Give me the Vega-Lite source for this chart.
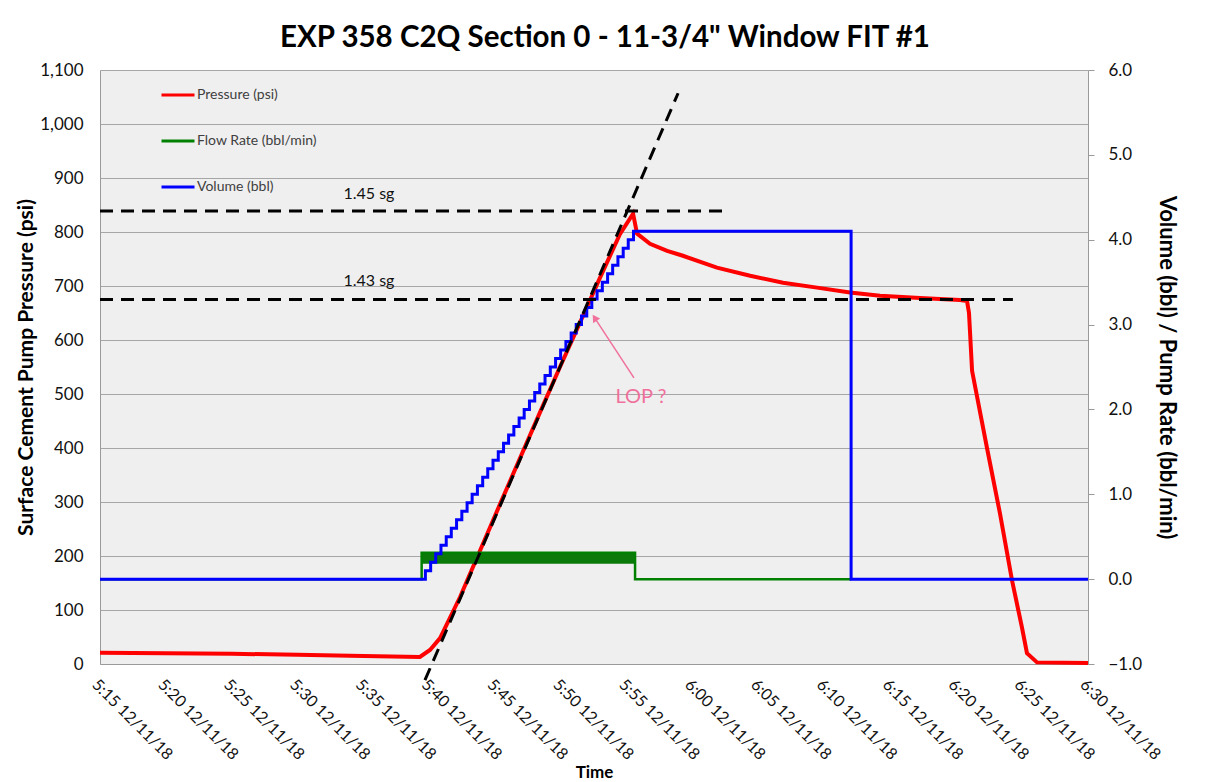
{
  "$schema": "https://vega.github.io/schema/vega-lite/v6.json",
  "width": 988,
  "height": 594,
  "autosize": {"type": "none"},
  "padding": {"left": 100, "top": 70, "right": 117, "bottom": 118},
  "background": "white",
  "title": {
    "text": "EXP 358 C2Q Section 0 - 11-3/4\" Window FIT #1",
    "font": "Lato", "fontSize": 29.5, "fontWeight": "bold", "color": "#000000",
    "anchor": "middle", "frame": "group", "offset": 8, "dx": 11
  },
  "config": {
    "view": {"fill": "#efefef", "stroke": null},
    "font": "Lato"
  },
  "datasets": {
    "pressure": [
      {"t": "2018-12-11T05:15:00", "p": 21},
      {"t": "2018-12-11T05:20:00", "p": 20},
      {"t": "2018-12-11T05:25:00", "p": 19},
      {"t": "2018-12-11T05:30:00", "p": 17},
      {"t": "2018-12-11T05:35:00", "p": 15},
      {"t": "2018-12-11T05:39:17", "p": 13},
      {"t": "2018-12-11T05:40:03", "p": 26},
      {"t": "2018-12-11T05:40:49", "p": 48},
      {"t": "2018-12-11T05:42:20", "p": 124},
      {"t": "2018-12-11T05:45:22", "p": 296},
      {"t": "2018-12-11T05:48:24", "p": 466},
      {"t": "2018-12-11T05:49:55", "p": 550},
      {"t": "2018-12-11T05:51:26", "p": 632},
      {"t": "2018-12-11T05:52:57", "p": 715},
      {"t": "2018-12-11T05:54:28", "p": 796},
      {"t": "2018-12-11T05:55:28", "p": 834},
      {"t": "2018-12-11T05:55:46", "p": 797},
      {"t": "2018-12-11T05:56:45", "p": 778},
      {"t": "2018-12-11T05:58:03", "p": 765},
      {"t": "2018-12-11T05:59:15", "p": 756},
      {"t": "2018-12-11T06:01:50", "p": 734},
      {"t": "2018-12-11T06:04:21", "p": 719},
      {"t": "2018-12-11T06:06:51", "p": 706},
      {"t": "2018-12-11T06:09:26", "p": 697},
      {"t": "2018-12-11T06:11:56", "p": 688},
      {"t": "2018-12-11T06:14:13", "p": 682},
      {"t": "2018-12-11T06:17:15", "p": 678},
      {"t": "2018-12-11T06:20:17", "p": 674},
      {"t": "2018-12-11T06:20:49", "p": 672},
      {"t": "2018-12-11T06:20:58", "p": 650},
      {"t": "2018-12-11T06:21:12", "p": 543},
      {"t": "2018-12-11T06:22:20", "p": 400},
      {"t": "2018-12-11T06:23:19", "p": 279},
      {"t": "2018-12-11T06:24:14", "p": 155},
      {"t": "2018-12-11T06:24:59", "p": 68},
      {"t": "2018-12-11T06:25:22", "p": 20},
      {"t": "2018-12-11T06:26:08", "p": 3},
      {"t": "2018-12-11T06:30:00", "p": 2}
    ],
    "flowband": [
      {"t": "2018-12-11T05:39:25", "hi": 0.31, "lo": 0.18},
      {"t": "2018-12-11T05:55:37", "hi": 0.31, "lo": 0.18}
    ],
    "flow": [
      {"t": "2018-12-11T05:15:00", "q": 0},
      {"t": "2018-12-11T05:39:25", "q": 0.31},
      {"t": "2018-12-11T05:55:37", "q": 0},
      {"t": "2018-12-11T06:12:01", "q": 0}
    ],
    "volume": [
      {"t": "2018-12-11T05:15:00", "v": 0},
      {"t": "2018-12-11T05:39:42", "v": 0.1},
      {"t": "2018-12-11T05:40:06", "v": 0.2},
      {"t": "2018-12-11T05:40:29", "v": 0.3},
      {"t": "2018-12-11T05:40:53", "v": 0.4},
      {"t": "2018-12-11T05:41:17", "v": 0.5},
      {"t": "2018-12-11T05:41:40", "v": 0.6},
      {"t": "2018-12-11T05:42:04", "v": 0.7},
      {"t": "2018-12-11T05:42:28", "v": 0.8},
      {"t": "2018-12-11T05:42:52", "v": 0.9},
      {"t": "2018-12-11T05:43:15", "v": 1.0},
      {"t": "2018-12-11T05:43:39", "v": 1.1},
      {"t": "2018-12-11T05:44:03", "v": 1.2},
      {"t": "2018-12-11T05:44:26", "v": 1.3},
      {"t": "2018-12-11T05:44:50", "v": 1.4},
      {"t": "2018-12-11T05:45:14", "v": 1.5},
      {"t": "2018-12-11T05:45:38", "v": 1.6},
      {"t": "2018-12-11T05:46:01", "v": 1.7},
      {"t": "2018-12-11T05:46:25", "v": 1.8},
      {"t": "2018-12-11T05:46:49", "v": 1.9},
      {"t": "2018-12-11T05:47:12", "v": 2.0},
      {"t": "2018-12-11T05:47:36", "v": 2.1},
      {"t": "2018-12-11T05:48:00", "v": 2.2},
      {"t": "2018-12-11T05:48:23", "v": 2.3},
      {"t": "2018-12-11T05:48:47", "v": 2.4},
      {"t": "2018-12-11T05:49:11", "v": 2.5},
      {"t": "2018-12-11T05:49:35", "v": 2.6},
      {"t": "2018-12-11T05:49:58", "v": 2.7},
      {"t": "2018-12-11T05:50:22", "v": 2.8},
      {"t": "2018-12-11T05:50:46", "v": 2.9},
      {"t": "2018-12-11T05:51:09", "v": 3.0},
      {"t": "2018-12-11T05:51:33", "v": 3.1},
      {"t": "2018-12-11T05:51:57", "v": 3.2},
      {"t": "2018-12-11T05:52:20", "v": 3.3},
      {"t": "2018-12-11T05:52:44", "v": 3.4},
      {"t": "2018-12-11T05:53:08", "v": 3.5},
      {"t": "2018-12-11T05:53:32", "v": 3.6},
      {"t": "2018-12-11T05:53:55", "v": 3.7},
      {"t": "2018-12-11T05:54:19", "v": 3.8},
      {"t": "2018-12-11T05:54:43", "v": 3.9},
      {"t": "2018-12-11T05:55:06", "v": 4.0},
      {"t": "2018-12-11T05:55:30", "v": 4.1},
      {"t": "2018-12-11T06:12:01", "v": 0},
      {"t": "2018-12-11T06:30:00", "v": 0}
    ],
    "dashes": [
      {"id": "fit", "t": "2018-12-11T05:39:40", "p": -30},
      {"id": "fit", "t": "2018-12-11T05:58:53", "p": 1057},
      {"id": "sg145", "t": "2018-12-11T05:15:00", "p": 839},
      {"id": "sg145", "t": "2018-12-11T06:02:36", "p": 839},
      {"id": "sg143", "t": "2018-12-11T05:15:00", "p": 675},
      {"id": "sg143", "t": "2018-12-11T06:24:18", "p": 675}
    ],
    "sglabels": [
      {"t": "2018-12-11T05:35:25", "p": 870, "label": "1.45 sg"},
      {"t": "2018-12-11T05:35:25", "p": 710, "label": "1.43 sg"}
    ],
    "lop": [
      {"t": "2018-12-11T05:56:04", "p": 495, "label": "LOP ?"}
    ],
    "arrow": [
      {"t": "2018-12-11T05:55:32", "p": 530, "t2": "2018-12-11T05:52:33", "p2": 641}
    ]
  },
  "layer": [
    {
      "data": {"name": "pressure"},
      "mark": {"type": "line", "strokeWidth": 4},
      "encoding": {
        "x": {"field": "t", "type": "temporal",
          "axis": {"title": "Time", "format": "%-H:%M %m/%d/%y", "labelAngle": 45, "labelAlign": "left", "labelBaseline": "top", "labelFont": "Lato", "labelFontSize": 16, "labelColor": "#111111", "labelPadding": 12, "labelFlush": false, "labelOverlap": false, "ticks": false, "grid": false, "domainColor": "#9a9a9a", "titleFont": "Lato", "titleFontSize": 17, "titleFontWeight": "bold", "titleColor": "#000000", "titlePadding": 2}},
        "y": {"field": "p", "type": "quantitative", "scale": {"domain": [0, 1100]},
          "axis": {"orient": "left", "title": "Surface Cement Pump Pressure (psi)", "format": ",.0f", "values": [0, 100, 200, 300, 400, 500, 600, 700, 800, 900, 1000, 1100], "labelFont": "Lato", "labelFontSize": 17, "labelColor": "#111111", "labelPadding": 17, "ticks": false, "grid": true, "gridColor": "#a6a6a6", "gridWidth": 1.2, "domainColor": "#9a9a9a", "titleFont": "Lato", "titleFontSize": 21, "titleFontWeight": "bold", "titleColor": "#000000", "titlePadding": 3}},
        "color": {"datum": "Pressure (psi)",
          "scale": {"domain": ["Pressure (psi)", "Flow Rate (bbl/min)", "Volume (bbl)"], "range": ["#ff0000", "#008000", "#0000ff"]},
          "legend": {"orient": "none", "legendX": 60, "legendY": 7, "title": null, "labelFont": "Lato", "labelFontSize": 14, "labelColor": "#404040", "symbolType": "stroke", "symbolSize": 1089, "symbolStrokeWidth": 3, "rowPadding": 21, "labelOffset": 1, "padding": 0}}
      }
    },
    {
      "data": {"name": "flowband"},
      "mark": {"type": "area", "color": "#0b7a0b", "opacity": 1},
      "encoding": {
        "x": {"field": "t", "type": "temporal"},
        "y": {"field": "hi", "type": "quantitative", "scale": {"domain": [-1, 6]},
          "axis": {"orient": "right", "title": "Volume (bbl) /  Pump Rate (bbl/min)", "format": ".1f", "values": [-1, 0, 1, 2, 3, 4, 5, 6], "labelFont": "Lato", "labelFontSize": 17, "labelColor": "#111111", "tickSize": 6, "tickColor": "#9a9a9a", "labelPadding": 14, "grid": false, "domainColor": "#9a9a9a", "titleFont": "Lato", "titleFontSize": 22, "titleFontWeight": "bold", "titleColor": "#000000", "titlePadding": 13}},
        "y2": {"field": "lo"}
      }
    },
    {
      "data": {"name": "flow"},
      "mark": {"type": "line", "strokeWidth": 2.5, "interpolate": "step-after"},
      "encoding": {
        "x": {"field": "t", "type": "temporal"},
        "y": {"field": "q", "type": "quantitative", "scale": {"domain": [-1, 6]}, "axis": null},
        "color": {"datum": "Flow Rate (bbl/min)"}
      }
    },
    {
      "data": {"name": "volume"},
      "mark": {"type": "line", "strokeWidth": 3, "interpolate": "step-after"},
      "encoding": {
        "x": {"field": "t", "type": "temporal"},
        "y": {"field": "v", "type": "quantitative", "scale": {"domain": [-1, 6]}, "axis": null},
        "color": {"datum": "Volume (bbl)"}
      }
    },
    {
      "data": {"name": "dashes"},
      "mark": {"type": "line", "color": "#000000", "strokeWidth": 3, "strokeDash": [13, 8]},
      "encoding": {
        "x": {"field": "t", "type": "temporal"},
        "y": {"field": "p", "type": "quantitative", "scale": {"domain": [0, 1100]}, "axis": null},
        "detail": {"field": "id"}
      }
    },
    {
      "data": {"name": "sglabels"},
      "mark": {"type": "text", "font": "Lato", "fontSize": 16, "color": "#111111", "align": "center", "baseline": "middle"},
      "encoding": {
        "x": {"field": "t", "type": "temporal"},
        "y": {"field": "p", "type": "quantitative", "scale": {"domain": [0, 1100]}, "axis": null},
        "text": {"field": "label"}
      }
    },
    {
      "data": {"name": "lop"},
      "mark": {"type": "text", "font": "Lato", "fontSize": 20, "color": "#f0719b", "align": "center", "baseline": "middle"},
      "encoding": {
        "x": {"field": "t", "type": "temporal"},
        "y": {"field": "p", "type": "quantitative", "scale": {"domain": [0, 1100]}, "axis": null},
        "text": {"field": "label"}
      }
    },
    {
      "data": {"name": "arrow"},
      "mark": {"type": "rule", "color": "#f0719b", "strokeWidth": 1.5},
      "encoding": {
        "x": {"field": "t", "type": "temporal"},
        "x2": {"field": "t2"},
        "y": {"field": "p", "type": "quantitative", "scale": {"domain": [0, 1100]}, "axis": null},
        "y2": {"field": "p2"}
      }
    },
    {
      "data": {"name": "arrow"},
      "mark": {"type": "point", "shape": "triangle-up", "filled": true, "color": "#f0719b", "size": 70, "angle": 327, "opacity": 1},
      "encoding": {
        "x": {"field": "t2", "type": "temporal"},
        "y": {"field": "p2", "type": "quantitative", "scale": {"domain": [0, 1100]}, "axis": null}
      }
    }
  ],
  "resolve": {"scale": {"y": "independent"}}
}
